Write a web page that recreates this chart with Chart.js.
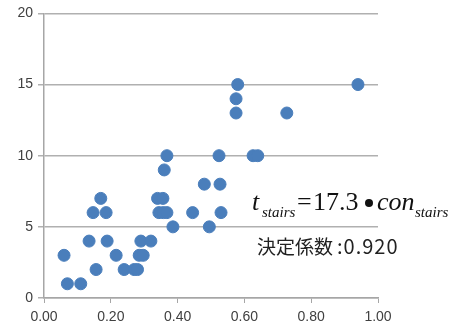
<!DOCTYPE html>
<html>
<head>
<meta charset="utf-8">
<script src="https://cdn.jsdelivr.net/npm/chart.js@4"></script>
<style>
  html, body { margin: 0; padding: 0; background: #fff; }
  #wrap { width: 452px; height: 331px; }
</style>
</head>
<body>
<div id="wrap"><canvas id="stairs"></canvas></div>
<script>
// con_stairs (x) vs t_stairs (y)
const conStairs = [0.06, 0.07, 0.11, 0.135, 0.147, 0.156, 0.17, 0.186, 0.189, 0.216,
	0.24, 0.27, 0.28, 0.285, 0.297, 0.29, 0.32, 0.34, 0.356, 0.344,
	0.357, 0.368, 0.386, 0.36, 0.368, 0.445, 0.48, 0.495, 0.524, 0.527,
	0.53, 0.58, 0.575, 0.575, 0.727, 0.94, 0.626, 0.64];
const tStairs = [3, 1, 1, 4, 6, 2, 7, 6, 4, 3,
	2, 2, 2, 3, 3, 4, 4, 7, 7, 6,
	6, 6, 5, 9, 10, 6, 8, 5, 10, 8,
	6, 15, 14, 13, 13, 15, 10, 10];
const xTicks = { min: 0, max: 1, step: 0.2 };
const yTicks = { min: 0, max: 20, step: 5 };
const equationText = { coef: '17.3', name: 'stairs' };
const r2Label = '決定係数';
const r2Value = ':0.920';

const points = conStairs.map((x, i) => ({ x: x, y: tStairs[i] }));

// text box in the lower right of the plot
const notes = {
	id: 'notes',
	afterDraw(chart) {
		const ctx = chart.ctx;
		ctx.save();
		ctx.fillStyle = '#111';
		ctx.textBaseline = 'alphabetic';
		const base = 210;
		const serif = '"Liberation Serif"';

		ctx.font = 'italic 26px ' + serif;
		ctx.fillText('t', 252, base);
		ctx.font = 'italic 15px ' + serif;
		ctx.fillText(equationText.name, 262, base + 7);

		ctx.font = '26px ' + serif;
		ctx.fillText('=', 297, base);
		ctx.fillText(equationText.coef, 313, base);
		ctx.beginPath();
		ctx.arc(369, base - 7, 4, 0, Math.PI * 2);
		ctx.fill();

		ctx.font = 'italic 26px ' + serif;
		ctx.fillText('con', 377, base);
		ctx.font = 'italic 15px ' + serif;
		ctx.fillText(equationText.name, 415, base + 7);

		// coefficient of determination
		ctx.fillStyle = '#222';
		ctx.font = '19px "Noto Sans CJK JP"';
		ctx.letterSpacing = '0px';
		ctx.fillText(r2Label, 257, 254);
		ctx.font = '20px "Noto Sans CJK JP"';
		ctx.letterSpacing = '1px';
		ctx.fillText(r2Value, 337, 254);
		ctx.restore();
	},
};

const ctx = document.getElementById('stairs').getContext('2d');
new Chart(ctx, {
	type: 'scatter',
	data: {
		datasets: [{
			data: points,
			backgroundColor: '#4a7ebb',
			borderColor: '#4a7ebb',
			pointRadius: 6,
			pointHoverRadius: 6,
		}],
	},
	options: {
		responsive: true,
		maintainAspectRatio: false,
		animation: false,
		layout: { padding: { top: 12, right: 74, left: 0, bottom: 0 } },
		plugins: { legend: { display: false }, tooltip: { enabled: false } },
		scales: {
			x: {
				min: xTicks.min,
				max: xTicks.max,
				afterFit: (s) => { s.height = 33; },
				ticks: {
					stepSize: xTicks.step,
					padding: 6,
					color: '#404040',
					font: { family: '"Liberation Sans"', size: 14 },
					callback: (v) => Number(v).toFixed(2),
				},
				grid: { drawOnChartArea: false, tickLength: 5, color: '#a6a6a6' },
				border: { color: '#a6a6a6', width: 1.5 },
			},
			y: {
				min: yTicks.min,
				max: yTicks.max,
				afterFit: (s) => { s.width = 44; },
				ticks: {
					stepSize: yTicks.step,
					padding: 5,
					color: '#404040',
					font: { family: '"Liberation Sans"', size: 14 },
				},
				grid: { tickLength: 6, color: '#b0b0b0', lineWidth: 1.5 },
				border: { color: '#a6a6a6', width: 1.5 },
			},
		},
	},
	plugins: [notes],
});
</script>
</body>
</html>
